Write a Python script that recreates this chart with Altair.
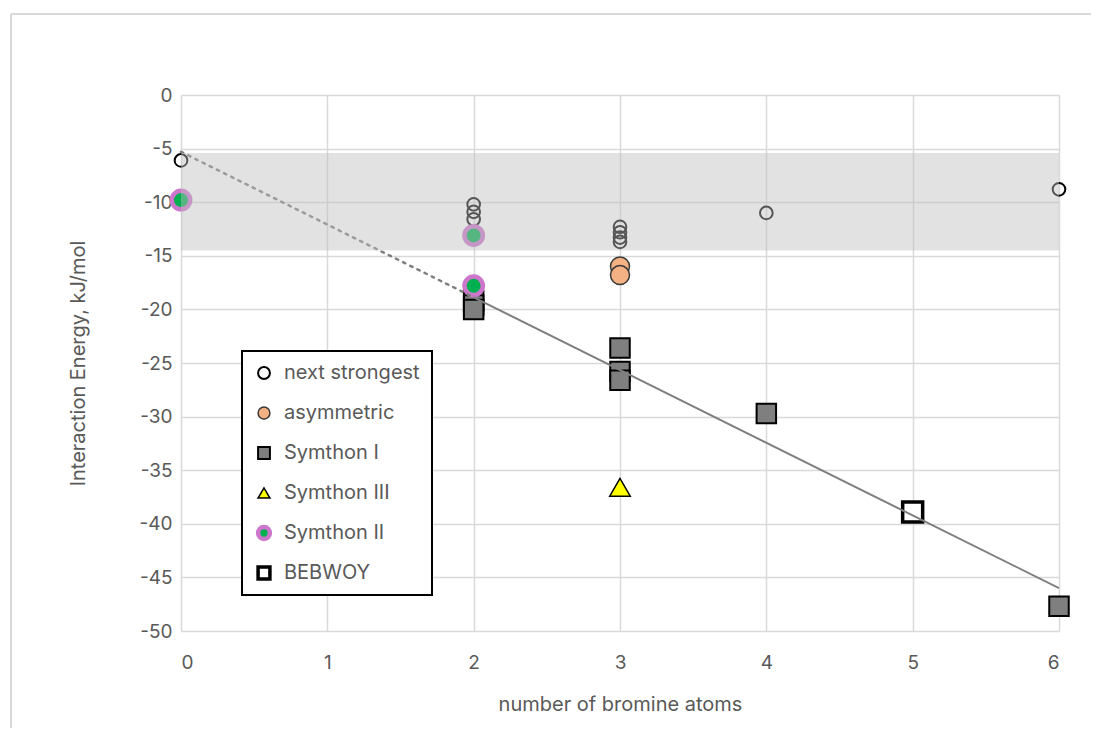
import altair as alt
import pandas as pd

# ---- data ----
series_order = ["next strongest", "asymmetric", "Symthon I", "Symthon III", "Symthon II", "BEBWOY"]

ns_x = [0, 2, 2, 2, 3, 3, 3, 3, 4, 6]
ns_y = [-6.1, -10.2, -10.9, -11.6, -12.3, -12.8, -13.3, -13.7, -11.0, -8.8]

asym_x = [3, 3]
asym_y = [-16.0, -16.8]

s1_x = [2, 2, 2, 3, 3, 3, 4, 6]
s1_y = [-19.2, -19.6, -20.0, -23.6, -25.8, -26.6, -29.7, -47.7]

s3_x = [3]
s3_y = [-36.6]

s2_x = [0, 2, 2]
s2_y = [-9.8, -13.1, -17.8]

beb_x = [5]
beb_y = [-38.9]

trend_dotted_x = [0, 2]
trend_dotted_y = [-5.3, -18.87]
trend_solid_x = [2, 6]
trend_solid_y = [-18.87, -46.0]

band_x = [0]
band_x2 = [6]
band_top = [-5.4]
band_bottom = [-14.5]

x_ticks = [0, 1, 2, 3, 4, 5, 6]
y_ticks = [0, -5, -10, -15, -20, -25, -30, -35, -40, -45, -50]

# ---- tables ----
rows = []
for name, xs, ys in [
    ("next strongest", ns_x, ns_y),
    ("asymmetric", asym_x, asym_y),
    ("Symthon I", s1_x, s1_y),
    ("Symthon III", s3_x, s3_y),
    ("Symthon II", s2_x, s2_y),
    ("BEBWOY", beb_x, beb_y),
]:
    for xv, yv in zip(xs, ys):
        rows.append({"series": name, "x": xv, "y": yv, "order": series_order.index(name)})
pts = pd.DataFrame(rows)

dotted = pd.DataFrame({"x": trend_dotted_x, "y": trend_dotted_y})
solid = pd.DataFrame({"x": trend_solid_x, "y": trend_solid_y})
band = pd.DataFrame({"x": band_x, "x2": band_x2, "y": band_top, "y2": band_bottom})

FONT = "Inter"
GRAY_TXT = "#595959"

xscale = alt.Scale(domain=[0, 6], nice=False, zero=False)
yscale = alt.Scale(domain=[-50, 0], nice=False, zero=False)

x_axis = alt.Axis(
    title="number of bromine atoms", values=x_ticks, format="d", grid=True, ticks=False, domain=False,
    labelFontSize=19, labelColor=GRAY_TXT, labelPadding=22, labelFont=FONT,
    titleFontSize=20, titleColor=GRAY_TXT, titleFont=FONT, titleFontWeight="normal",
    titleY=73, titleBaseline="middle",
)
y_axis = alt.Axis(
    title="Interaction Energy, kJ/mol", values=y_ticks, grid=True, ticks=False, domain=False,
    labelFontSize=19, labelColor=GRAY_TXT, labelPadding=9, labelFont=FONT,
    labelExpr="'' + datum.value",
    titleFontSize=20, titleColor=GRAY_TXT, titleFont=FONT, titleFontWeight="normal",
    titleX=-103, titleY=268, titleBaseline="middle", titleAngle=-90,
)

# outer chart frame (only its top and left edges fall inside the picture)
frame_src = pd.DataFrame({"a": [0]})
frame_top = alt.Chart(frame_src).mark_rule(color="#d9d9d9", strokeWidth=2).encode(
    x=alt.value(-170), x2=alt.value(1500), y=alt.value(-81)
)
frame_left = alt.Chart(frame_src).mark_rule(color="#d9d9d9", strokeWidth=2).encode(
    x=alt.value(-170), y=alt.value(-81), y2=alt.value(1500)
)

legend = alt.Legend(
    title=None, orient="none", legendX=61, legendY=256,
    strokeColor="#000000", fillColor="#ffffff", padding=12, rowPadding=20,
    clipHeight=20,
    labelFontSize=20, labelColor=GRAY_TXT, labelFont=FONT,
    symbolSize=140, labelOffset=10,
)


def by_series(values, default):
    return {
        "condition": [
            {"test": f"datum.series === '{s}'", "value": v}
            for s, v in zip(series_order, values)
        ],
        "value": default,
    }


points = alt.Chart(pts).mark_point(filled=True, opacity=1).encode(
    x=alt.X("x:Q", scale=xscale, axis=x_axis),
    y=alt.Y("y:Q", scale=yscale, axis=y_axis),
    shape=alt.Shape("series:N", scale=alt.Scale(
        domain=series_order,
        range=["circle", "circle", "square", "triangle-up", "circle", "square"]),
        legend=legend),
    fill=alt.Fill("series:N", scale=alt.Scale(
        domain=series_order,
        range=["transparent", "#f4b183", "#7f7f7f", "#ffff00", "#00b050", "#ffffff"]),
        legend=legend),
    stroke=alt.Stroke("series:N", scale=alt.Scale(
        domain=series_order,
        range=["#000000", "#3a3a3a", "#000000", "#000000", "#cc77cc", "#000000"]),
        legend=legend),
    strokeWidth=alt.StrokeWidth("series:O", scale=alt.Scale(
        type="ordinal", domain=series_order, range=[2, 1.5, 2, 1.5, 4.5, 3.5]),
        legend=legend),
    size=by_series([160, 360, 380, 420, 340, 400], 200),
    order=alt.Order("order:Q"),
)

line_dotted = alt.Chart(dotted).mark_line(
    color="#7f7f7f", strokeWidth=2.5, strokeDash=[2.5, 5.5], strokeCap="round"
).encode(x=alt.X("x:Q", scale=xscale), y=alt.Y("y:Q", scale=yscale))

line_solid = alt.Chart(solid).mark_line(
    color="#7f7f7f", strokeWidth=2
).encode(x=alt.X("x:Q", scale=xscale), y=alt.Y("y:Q", scale=yscale))

band_rect = alt.Chart(band).mark_rect(color="#bfbfbf", opacity=0.45).encode(
    x=alt.X("x:Q", scale=xscale), x2="x2:Q",
    y=alt.Y("y:Q", scale=yscale), y2="y2:Q",
)

chart = alt.layer(frame_top, frame_left, points, line_dotted, line_solid, band_rect).properties(
    width=878, height=536,
    autosize=alt.AutoSizeParams(type="none"),
    padding={"left": 173, "top": 87, "right": 32, "bottom": 97},
    background="white",
).configure_view(stroke=None).configure_axis(
    gridColor="#d9d9d9", gridWidth=1.5
).configure_legend(strokeWidth=2)

chart.save("out.html", embed_options={"renderer": "svg", "actions": False})
